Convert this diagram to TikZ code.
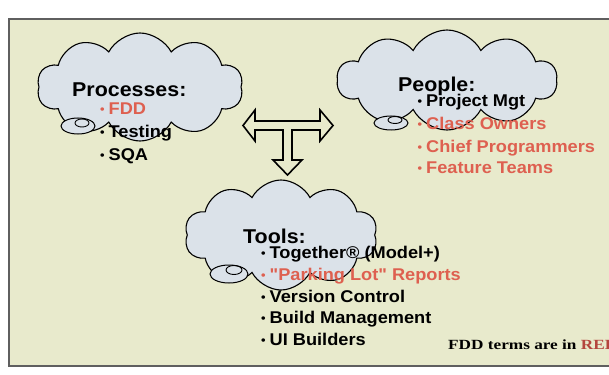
\documentclass[tikz,border=0pt]{standalone}
\usepackage{fontspec}
\usetikzlibrary{shapes.symbols}
\newfontfamily\armfont[FakeStretch=1.07]{Liberation Sans}
\newfontfamily\serfont[FakeStretch=1.23]{Liberation Serif}
\definecolor{bgc}{RGB}{232,234,204}
\definecolor{cloudc}{RGB}{219,226,233}
\definecolor{redt}{RGB}{222,96,80}
\definecolor{redn}{RGB}{180,70,62}
\definecolor{framec}{RGB}{95,95,95}
\newcommand{\myblt}{\makebox[8.5pt][l]{\raisebox{1pt}{\fontsize{12}{12}\selectfont\textbullet}}}
\tikzset{
  cloudbox/.style={cloud, cloud puffs=10, cloud puff arc=125, draw=black, line width=1.1pt, fill=cloudc, inner sep=0pt},
  bubble/.style={draw=black, line width=1pt, fill=cloudc},
  loopline/.style={draw=black, line width=0.9pt},
  titletext/.style={anchor=base west, font=\armfont\bfseries\fontsize{20}{24}\selectfont, inner sep=0pt},
  itemtext/.style={anchor=base west, font=\armfont\bfseries\fontsize{17}{20}\selectfont, inner sep=0pt},
  notetext/.style={anchor=base west, font=\serfont\bfseries\fontsize{14}{16}\selectfont, inner sep=0pt},
  arrowshape/.style={draw=black, line width=1.6pt, fill=bgc, line join=miter},
}
\begin{document}
\begin{tikzpicture}[x=1pt,y=-1pt]
\useasboundingbox (0,0) rectangle (609,374);
\fill[white] (0,0) rectangle (609,374);
\draw[framec, line width=1.3pt, fill=bgc] (9,19) rectangle (620,366);

% clouds
\node[cloudbox, minimum width=206pt, minimum height=108pt] (c1) at (140,87) {};
\node[cloudbox, minimum width=220pt, minimum height=100pt] (c2) at (447,80) {};
\node[cloudbox, minimum width=193pt, minimum height=110pt] (c3) at (281,235) {};

% small bubbles
\draw[bubble] (78,126) ellipse [x radius=17, y radius=8];
\draw[loopline] (82,123) ellipse [x radius=7, y radius=4];
\draw[bubble] (391,123) ellipse [x radius=17, y radius=7];
\draw[loopline] (395,120) ellipse [x radius=7, y radius=3.5];
\draw[bubble] (229,274) ellipse [x radius=19, y radius=9];
\draw[loopline] (234,270) ellipse [x radius=8, y radius=4.5];

% T arrow
\draw[arrowshape] (243,125.5) -- (255,110) -- (255,121) -- (320,121) -- (320,110) -- (333,125.5)
  -- (320,141) -- (320,130) -- (292,130) -- (292,160) -- (302,160) -- (287.5,175)
  -- (273,160) -- (283,160) -- (283,130) -- (255,130) -- (255,141) -- cycle;

% Processes
\node[titletext] (ptitle) at (72,97) {Processes:};
\node[itemtext, text=redt] (p1) at (100,115) {\myblt FDD};
\node[itemtext] (p2) at (100,138) {\myblt Testing};
\node[itemtext] (p3) at (100,160) {\myblt SQA};

% People
\node[titletext] (qtitle) at (398,92) {People:};
\node[itemtext] (q1) at (417.5,107) {\myblt Project Mgt};
\node[itemtext, text=redt] (q2) at (417.5,130) {\myblt Class Owners};
\node[itemtext, text=redt] (q3) at (417.5,152) {\myblt Chief Programmers};
\node[itemtext, text=redt] (q4) at (417.5,173) {\myblt Feature Teams};

% Tools
\node[titletext] (ttitle) at (243,243) {Tools:};
\node[itemtext] (t1) at (261,258) {\myblt Together® (Model+)};
\node[itemtext, text=redt] (t2) at (261,280) {\myblt "Parking Lot" Reports};
\node[itemtext] (t3) at (261,302) {\myblt Version Control};
\node[itemtext] (t4) at (261,323) {\myblt Build Management};
\node[itemtext] (t5) at (261,345) {\myblt UI Builders};

% note
\node[notetext] (note) at (448,349) {FDD terms are in \textcolor{redn}{RED}};
\end{tikzpicture}
\end{document}
